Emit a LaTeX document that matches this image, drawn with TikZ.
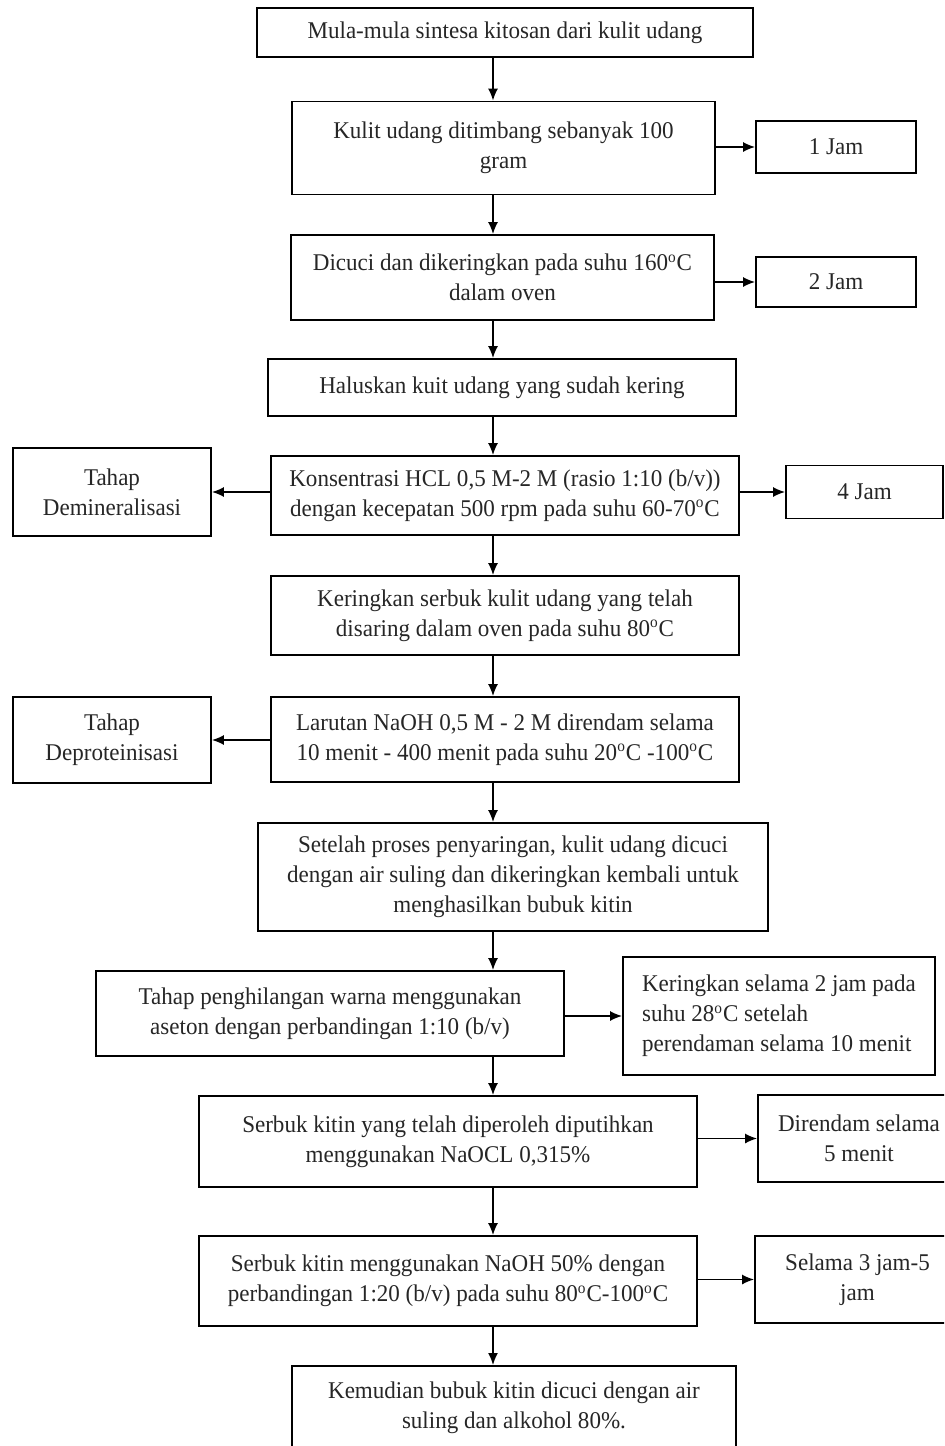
\documentclass[tikz,border=0pt]{standalone}
\usepackage{fontspec}
\setmainfont{Liberation Serif}[FakeStretch=0.96]
\usepackage{tikz}
\usetikzlibrary{arrows.meta}

\begin{document}
\begin{tikzpicture}[x=0.5pt, y=-0.5pt,
		proses/.style={rectangle, draw=black, line width=0.9pt, align=center, inner sep=0pt,
				text=black!85, font=\fontsize{12}{15}\selectfont},
		panah/.style={-{Latex[length=6pt,width=5pt]}, line width=0.8pt},]
	\useasboundingbox (0,0) rectangle (944,1446);
	\clip (0,0) rectangle (944,1446);
	\coordinate (sumbu) at (493,0);

	\node (mula) [proses, minimum width=248pt, minimum height=24.5pt] at (505,32.5)
	{Mula-mula sintesa kitosan dari kulit udang};

	\node (timbang) [proses, minimum width=211.5pt, minimum height=46.5pt] at (503.5,148)
	{Kulit udang ditimbang sebanyak 100\\ gram};
	\node (jam1) [proses, minimum width=80pt, minimum height=26pt] at (836,147) {1 Jam};

	\node (cuci) [proses, minimum width=211.5pt, minimum height=42.5pt] at (502.5,277.5)
	{Dicuci dan dikeringkan pada suhu 160\textsuperscript{o}C\\ dalam oven};
	\node (jam2) [proses, minimum width=80pt, minimum height=25pt] at (836,282) {2 Jam};

	\node (halus) [proses, minimum width=234pt, minimum height=28.5pt] at (502,387.5)
	{Haluskan kuit udang yang sudah kering};

	\node (hcl) [proses, minimum width=234pt, minimum height=39.5pt] at (505,495.5)
	{Konsentrasi HCL 0,5 M-2 M (rasio 1:10 (b/v))\\ dengan kecepatan 500 rpm pada suhu 60-70\textsuperscript{o}C};
	\node (demin) [proses, minimum width=99pt, minimum height=44pt] at (112,492)
	{Tahap\\ Demineralisasi};
	\node (jam4) [proses, minimum width=78.5pt, minimum height=26.5pt] at (864.5,492) {4 Jam};

	\node (kering) [proses, minimum width=234pt, minimum height=39.5pt] at (505,615.5)
	{Keringkan serbuk kulit udang yang telah\\ disaring dalam oven pada suhu 80\textsuperscript{o}C};

	\node (naoh) [proses, minimum width=234pt, minimum height=42.5pt] at (505,739.5)
	{Larutan NaOH 0,5 M - 2 M direndam selama\\ 10 menit - 400 menit pada suhu 20\textsuperscript{o}C -100\textsuperscript{o}C};
	\node (deprot) [proses, minimum width=99pt, minimum height=43pt] at (112,740)
	{Tahap\\ Deproteinisasi};

	\node (saring) [proses, minimum width=255pt, minimum height=54pt] at (513,877)
	{Setelah proses penyaringan, kulit udang dicuci\\ dengan air suling dan dikeringkan kembali untuk\\ menghasilkan bubuk kitin};

	\node (warna) [proses, minimum width=234pt, minimum height=42.5pt] at (330,1013.5)
	{Tahap penghilangan warna menggunakan\\ aseton dengan perbandingan 1:10 (b/v)};
	\node (jam28) [proses, align=left, minimum width=156pt, minimum height=59pt] at (779,1016)
	{Keringkan selama 2 jam pada\\ suhu 28\textsuperscript{o}C setelah\\ perendaman selama 10 menit};

	\node (putih) [proses, minimum width=249pt, minimum height=45.5pt] at (448,1141.5)
	{Serbuk kitin yang telah diperoleh diputihkan\\ menggunakan NaOCL 0,315\%};
	\node (rendam) [proses, minimum width=101pt, minimum height=43.5pt] at (859,1138.5)
	{Direndam selama\\ 5 menit};

	\node (naoh50) [proses, minimum width=249pt, minimum height=45pt] at (448,1281)
	{Serbuk kitin menggunakan NaOH 50\% dengan\\ perbandingan 1:20 (b/v) pada suhu 80\textsuperscript{o}C-100\textsuperscript{o}C};
	\node (jam35) [proses, minimum width=102.5pt, minimum height=43.5pt] at (857.5,1279.5)
	{Selama 3 jam-5\\ jam};

	\node (akhir) [proses, anchor=north, minimum width=222pt, inner ysep=8pt] at (514,1365)
	{Kemudian bubuk kitin dicuci dengan air\\ suling dan alkohol 80\%.\\ \strut};

	% alur utama
	\draw [panah] (mula.south -| sumbu) -- (timbang.north -| sumbu);
	\draw [panah] (timbang.south -| sumbu) -- (cuci.north -| sumbu);
	\draw [panah] (cuci.south -| sumbu) -- (halus.north -| sumbu);
	\draw [panah] (halus.south -| sumbu) -- (hcl.north -| sumbu);
	\draw [panah] (hcl.south -| sumbu) -- (kering.north -| sumbu);
	\draw [panah] (kering.south -| sumbu) -- (naoh.north -| sumbu);
	\draw [panah] (naoh.south -| sumbu) -- (saring.north -| sumbu);
	\draw [panah] (saring.south -| sumbu) -- (warna.north -| sumbu);
	\draw [panah] (warna.south -| sumbu) -- (putih.north -| sumbu);
	\draw [panah] (putih.south -| sumbu) -- (naoh50.north -| sumbu);
	\draw [panah] (naoh50.south -| sumbu) -- (akhir.north -| sumbu);

	% keterangan samping
	\draw [panah] (timbang.east |- jam1) -- (jam1.west);
	\draw [panah] (cuci.east |- jam2) -- (jam2.west);
	\draw [panah] (hcl.west |- demin) -- (demin.east);
	\draw [panah] (hcl.east |- jam4) -- (jam4.west);
	\draw [panah] (naoh.west |- deprot) -- (deprot.east);
	\draw [panah] (warna.east |- jam28) -- (jam28.west);
	\draw [panah] (putih.east |- rendam) -- (rendam.west);
	\draw [panah] (naoh50.east |- jam35) -- (jam35.west);
\end{tikzpicture}
\end{document}
